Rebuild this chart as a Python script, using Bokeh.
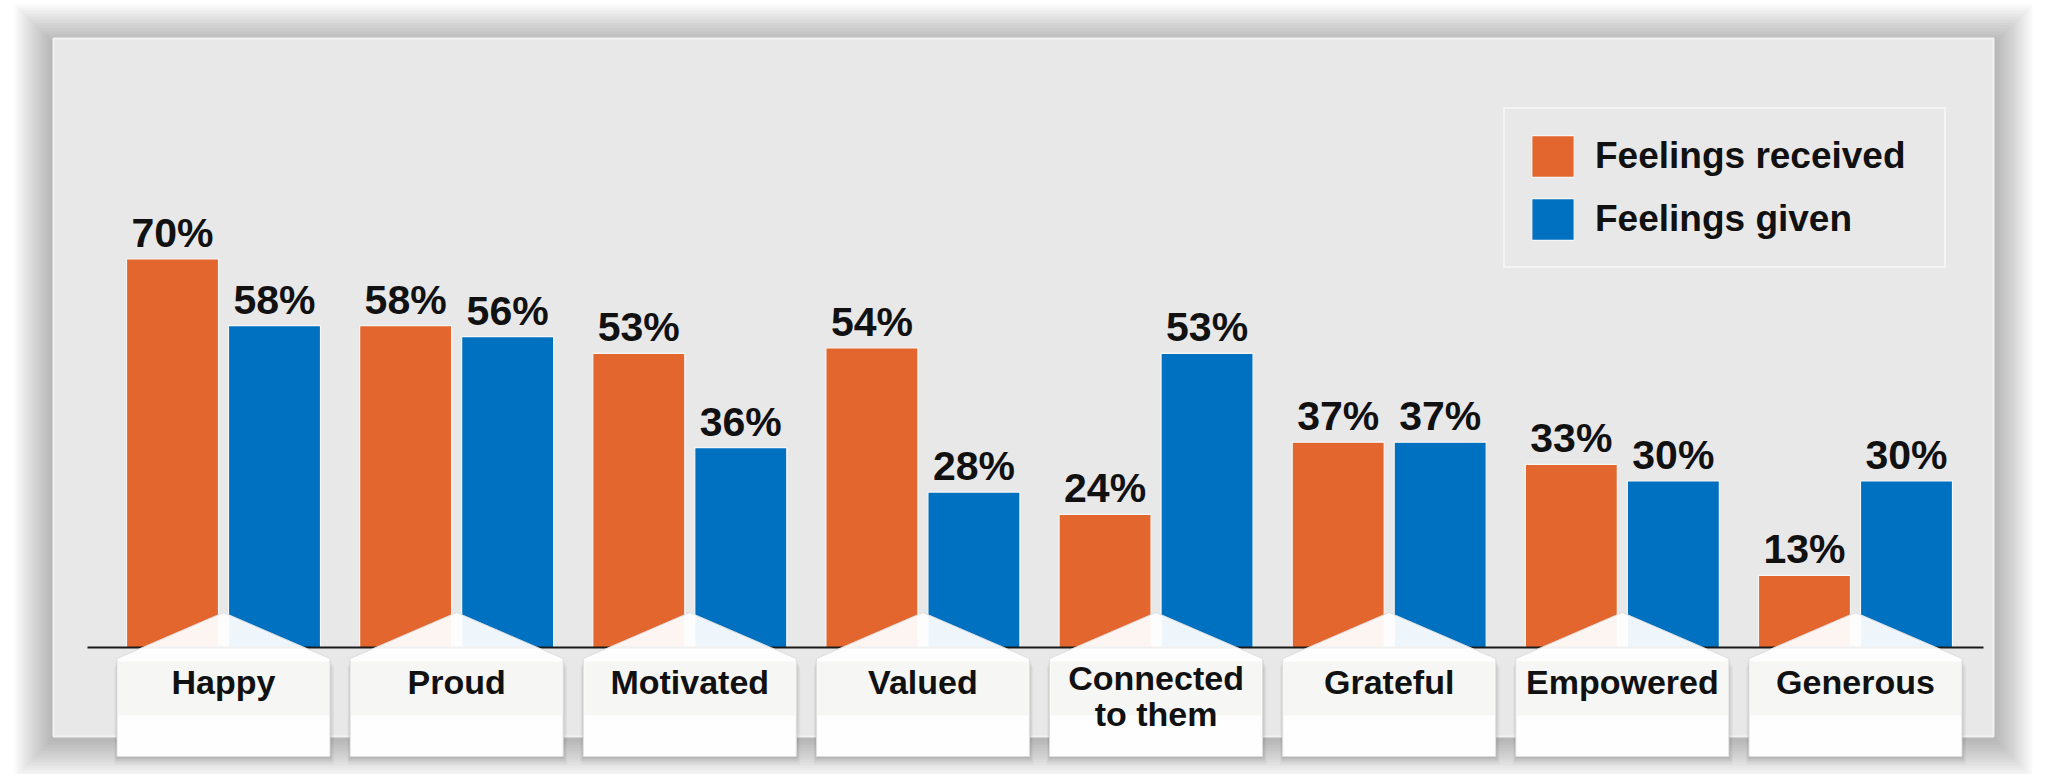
import numpy as np
from bokeh.plotting import figure
from bokeh.models import Range1d, Legend, LegendItem
from bokeh.core.properties import value
from bokeh.embed import file_html
from bokeh.resources import INLINE

# ---- data ---------------------------------------------------------------
categories = ["Happy", "Proud", "Motivated", "Valued", "Connected\nto them",
              "Grateful", "Empowered", "Generous"]
received = [70, 58, 53, 54, 24, 37, 33, 13]
given = [58, 56, 36, 28, 53, 37, 30, 30]
series_names = ["Feelings received", "Feelings given"]
series_colors = ["#E2662D", "#0070C0"]

# ---- page geometry (pixels, measured from the top-left of the canvas) ----
W, H = 2048, 774
GROUP0_PX = 223.0        # centre of the first category group
GROUP_STEP_PX = 233.14   # distance between group centres
BASE_PX = 647.0          # zero line
PX_PER_PCT = 5.55        # vertical scale
BAR_W_PX = 92.0
BAR_OFF_PX = 51.0
PANEL_L, PANEL_R, PANEL_T, PANEL_B = 53, 1993, 38, 736
BOX_HALF_PX = 106.5
BOX_APEX_PX, BOX_SHOULDER_PX, BOX_BOTTOM_PX = 612, 658, 756
VALUE_GAP_PX = 26        # from bar top to the anchor of its value label
CAT_FIRST_PX = 681       # anchor of the first label line
CAT_STEP_PX = 36         # line step for two-line labels
FONT = "Liberation Sans"


def px_x(px):
    return (px - GROUP0_PX) / GROUP_STEP_PX


def px_y(py):
    return (BASE_PX - py) / PX_PER_PCT


def dx(px):
    return px / GROUP_STEP_PX


def dy(px):
    return px / PX_PER_PCT


p = figure(width=W, height=H, output_backend="svg", toolbar_location=None,
           x_range=Range1d(px_x(0), px_x(W)), y_range=Range1d(px_y(H), px_y(0)),
           x_axis_location=None, y_axis_location=None,
           min_border=0, min_border_left=0, min_border_right=0,
           min_border_top=0, min_border_bottom=0)
p.grid.visible = False
p.outline_line_color = None
p.background_fill_color = "white"
p.border_fill_color = "white"

# ---- panel with soft drop shadow ----------------------------------------
n_layers = 13
sl, sr, st, sb, sa = [], [], [], [], []
for k in range(n_layers, 0, -1):
    d = 3 * k
    sl.append(px_x(PANEL_L - d))
    sr.append(px_x(PANEL_R + d))
    st.append(px_y(PANEL_T - d + 5))
    sb.append(px_y(PANEL_B + d + 2))
    sa.append(0.022)
p.quad(left=sl, right=sr, top=st, bottom=sb, fill_color="black",
       fill_alpha=sa, line_color=None)
p.quad(left=[px_x(PANEL_L)], right=[px_x(PANEL_R)], top=[px_y(PANEL_T)],
       bottom=[px_y(PANEL_B)], fill_color="#E8E8E8", line_color="#F2F2F2",
       line_width=2)

# ---- bars ---------------------------------------------------------------
idx = np.arange(len(categories), dtype=float)
x_recv = idx - dx(BAR_OFF_PX)
x_given = idx + dx(BAR_OFF_PX)
bw = dx(BAR_W_PX)
r_recv = p.vbar(x=x_recv, top=received, bottom=0, width=bw,
                fill_color=series_colors[0], line_color="#F6F6F6", line_width=1.2)
r_given = p.vbar(x=x_given, top=given, bottom=0, width=bw,
                 fill_color=series_colors[1], line_color="#F6F6F6", line_width=1.2)

# zero line
p.segment(x0=[px_x(87)], y0=[0], x1=[px_x(1983)], y1=[0],
          line_color="#1A1A1A", line_width=2)

# ---- category tabs (pentagon pointing up at each group) -----------------
hw = dx(BOX_HALF_PX)
ya, ys, yb = px_y(BOX_APEX_PX), px_y(BOX_SHOULDER_PX), px_y(BOX_BOTTOM_PX)

# soft shadow below and right of each tab
for off, alpha in [(8, 0.035), (5, 0.05), (2, 0.07)]:
    p.quad(left=idx - hw - dx(off / 3), right=idx + hw + dx(off / 2),
           top=[ys - dy(off)] * len(idx), bottom=[yb - dy(off)] * len(idx),
           fill_color="black", fill_alpha=alpha, line_color=None)

# opaque body, then the translucent pointed tab on top of it
p.quad(left=idx - hw, right=idx + hw, top=[ys] * len(idx), bottom=[yb] * len(idx),
       fill_color="#FEFEFE", line_color=None)
xs_box = [[c - hw, c, c + hw, c + hw, c - hw] for c in idx]
ys_box = [[ys, ya, ys, yb, yb] for _ in idx]
p.patches(xs=xs_box, ys=ys_box, fill_color="#FEFEFE", fill_alpha=0.94,
          line_color="#DDDDDD", line_width=1)
# lighter band behind the label text
p.quad(left=idx - hw + dx(1), right=idx + hw - dx(1),
       top=[px_y(661)] * len(idx), bottom=[px_y(715)] * len(idx),
       fill_color="#F6F6F4", line_color=None)

# ---- category labels ----------------------------------------------------
lx, ly, lt = [], [], []
for c, lab in zip(idx, categories):
    lines = lab.split("\n")
    first = CAT_FIRST_PX - 4 * (len(lines) - 1)
    for j, line in enumerate(lines):
        lx.append(c)
        ly.append(px_y(first + CAT_STEP_PX * j))
        lt.append(line)
p.text(x=lx, y=ly, text=lt, text_font=value(FONT), text_font_style="bold",
       text_font_size="34px", text_align="center", text_baseline="alphabetic",
       text_color="#111111")

# ---- value labels -------------------------------------------------------
gap = dy(VALUE_GAP_PX)
vx = list(x_recv) + list(x_given)
vv = received + given
p.text(x=vx, y=[v + gap for v in vv], text=[f"{v}%" for v in vv],
       text_font=value(FONT), text_font_style="bold", text_font_size="41px",
       text_align="center", text_baseline="alphabetic", text_color="#111111")

# ---- legend -------------------------------------------------------------
legend = Legend(items=[LegendItem(label=series_names[0], renderers=[r_recv]),
                       LegendItem(label=series_names[1], renderers=[r_given])],
                location=(1503, H - 268), orientation="vertical",
                glyph_width=53, glyph_height=52, label_standoff=16, spacing=11,
                padding=21, margin=0, label_width=328,
                label_text_font=FONT, label_text_font_style="bold",
                label_text_font_size="37px", label_text_color="#111111",
                border_line_color="white", border_line_width=2,
                background_fill_alpha=0)
p.add_layout(legend, "center")

open("out.html", "w").write(file_html(p, INLINE))
